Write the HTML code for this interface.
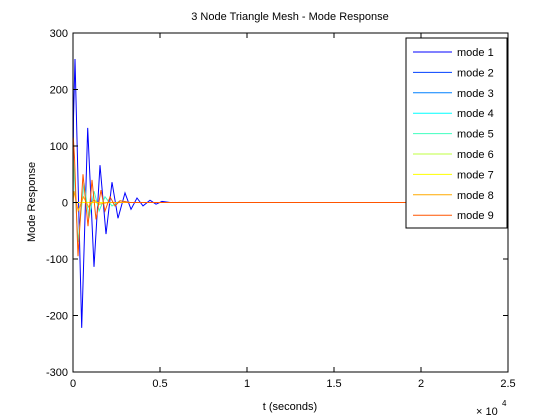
<!DOCTYPE html>
<html><head><meta charset="utf-8"><style>
body{margin:0;background:#fff;}
svg{display:block;font-family:"Liberation Sans",sans-serif;}
</style></head><body>
<svg id="chart" width="560" height="420" viewBox="0 0 560 420">
<rect x="0" y="0" width="560" height="420" fill="#fff"/>
<rect x="73" y="33" width="435" height="339" fill="#fff" stroke="none"/>
<g id="series"></g>
<rect x="73" y="33" width="435" height="339" fill="none" stroke="#000" stroke-width="1"/>
<g id="ticks"></g>
<text x="290" y="20" font-size="11" text-anchor="middle">3 Node Triangle Mesh - Mode Response</text>
<text x="290" y="410" font-size="11" text-anchor="middle">t (seconds)</text>
<text transform="translate(35,202) rotate(-90)" font-size="11" text-anchor="middle">Mode Response</text>
<text x="476" y="415" font-size="11">× 10</text>
<text x="502" y="406" font-size="8">4</text>
<g id="legend"></g>
</svg>
<script>
const xTicks=[0,5000,10000,15000,20000,25000];
const xTickLabels=["0","0.5","1","1.5","2","2.5"];
const yTicks=[-300,-200,-100,0,100,200,300];
const modeNames=["mode 1","mode 2","mode 3","mode 4","mode 5","mode 6","mode 7","mode 8","mode 9"];
const modeColors=["#0000ff","#0040ff","#0080ff","#00ffff","#40ffbf","#bfff40","#ffff00","#ffaa00","#ff5500"];
const mode1T=[0,29,115,500,845,1207,1552,1897,2241,2586,2989,3333,3678,4023,4425,4770,5115,5575,25000];
const mode1V=[0,150,254,-222,132,-114,66,-56,36,-28,17,-12,8,-6,4,-3,2,0,0];
const mode5T=[0,29,290,630,920,1210,1500,1840,2240,2700,3300,25000];
const mode5V=[0,75,-70,35,-28,20,-15,10,-6,3,0,0];
const mode8T=[0,60,300,600,900,1200,1500,2000,25000];
const mode8V=[0,20,-15,10,-8,5,-3,0,0];
const mode9T=[0,17,86,287,575,862,1092,1322,1609,1839,2126,2414,2701,3275,25000];
const mode9V=[0,115,80,-95,50,-42,40,-30,22,-15,10,-6,3,0,0];
const otherT=[0,25000];
const otherV=[0,0];
const X=t=>73+t/25000*435;
const Y=v=>202.5-v*339/600;
const NS="http://www.w3.org/2000/svg";
const series=document.getElementById('series');
const data=[[mode1T,mode1V],[otherT,otherV],[otherT,otherV],[otherT,otherV],[mode5T,mode5V],[otherT,otherV],[otherT,otherV],[mode8T,mode8V],[mode9T,mode9V]];
data.forEach((d,i)=>{
  const p=document.createElementNS(NS,'polyline');
  p.setAttribute('points',d[0].map((t,j)=>X(t).toFixed(1)+','+Y(d[1][j]).toFixed(1)).join(' '));
  p.setAttribute('fill','none');p.setAttribute('stroke',modeColors[i]);p.setAttribute('stroke-width','1');
  
  
  series.appendChild(p);
});
const tk=document.getElementById('ticks');
function line(x1,y1,x2,y2,name){const l=document.createElementNS(NS,'line');l.setAttribute('x1',x1);l.setAttribute('y1',y1);l.setAttribute('x2',x2);l.setAttribute('y2',y2);l.setAttribute('stroke','#000');


tk.appendChild(l);}
function text(x,y,s,anchor,name){const t=document.createElementNS(NS,'text');t.setAttribute('x',x);t.setAttribute('y',y);t.setAttribute('font-size','11');t.setAttribute('text-anchor',anchor);t.textContent=s;


tk.appendChild(t);}
xTicks.forEach((t,i)=>{const x=X(t);line(x,372,x,367,'x-tick');line(x,33,x,38,'x-tick-top');text(x,387,xTickLabels[i],'middle','x-tick-label');});
yTicks.forEach(v=>{const y=Y(v);line(73,y,78,y,'y-tick');line(508,y,503,y,'y-tick-right');text(68,y+4,String(v),'end','y-tick-label');});
const lg=document.getElementById('legend');
const box=document.createElementNS(NS,'rect');
box.setAttribute('x',406);box.setAttribute('y',38);box.setAttribute('width',101);box.setAttribute('height',190);box.setAttribute('fill','#fff');box.setAttribute('stroke','#000');


lg.appendChild(box);
modeNames.forEach((n,i)=>{
  const y=52+i*20.4;
  const l=document.createElementNS(NS,'line');
  l.setAttribute('x1',413);l.setAttribute('x2',452);l.setAttribute('y1',y);l.setAttribute('y2',y);l.setAttribute('stroke',modeColors[i]);
  
  
  lg.appendChild(l);
  const t=document.createElementNS(NS,'text');
  t.setAttribute('x',457);t.setAttribute('y',y+4);t.setAttribute('font-size','11');t.textContent=n;
  
  
  lg.appendChild(t);
});
</script>
</body></html>
